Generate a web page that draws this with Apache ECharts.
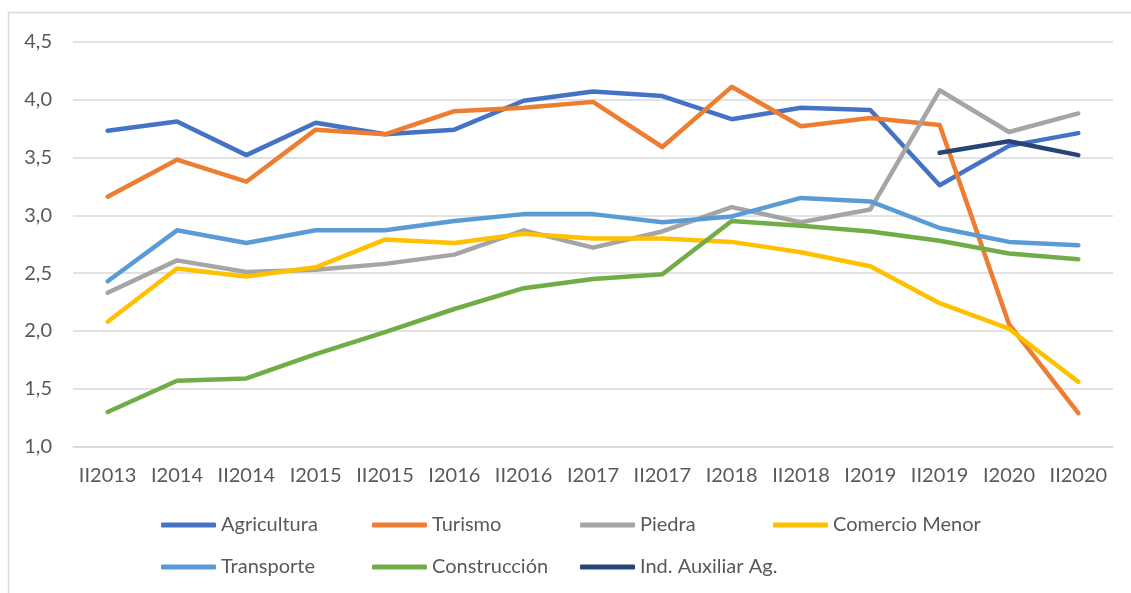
<!DOCTYPE html>
<html>
<head>
<meta charset="utf-8">
<script src="https://cdn.jsdelivr.net/npm/echarts@6/dist/echarts.min.js"></script>
<style>
  html, body { margin: 0; padding: 0; background: #fff; }
  #chart { width: 1131px; height: 593px; }
</style>
</head>
<body>
<div id="chart"></div>
<script>
var periodos = ['II2013', 'I2014', 'II2014', 'I2015', 'II2015', 'I2016', 'II2016', 'I2017', 'II2017', 'I2018', 'II2018', 'I2019', 'II2019', 'I2020', 'II2020'];

var agricultura  = [3.73, 3.81, 3.52, 3.80, 3.70, 3.74, 3.99, 4.07, 4.03, 3.83, 3.93, 3.91, 3.26, 3.60, 3.71];
var turismo      = [3.16, 3.48, 3.29, 3.74, 3.70, 3.90, 3.93, 3.98, 3.59, 4.11, 3.77, 3.84, 3.78, 2.06, 1.29];
var piedra       = [2.33, 2.61, 2.51, 2.53, 2.58, 2.66, 2.87, 2.72, 2.86, 3.07, 2.94, 3.05, 4.08, 3.72, 3.88];
var comercio     = [2.08, 2.54, 2.47, 2.55, 2.79, 2.76, 2.84, 2.80, 2.80, 2.77, 2.68, 2.56, 2.24, 2.02, 1.56];
var transporte   = [2.43, 2.87, 2.76, 2.87, 2.87, 2.95, 3.01, 3.01, 2.94, 2.99, 3.15, 3.12, 2.89, 2.77, 2.74];
var construccion = [1.30, 1.57, 1.59, 1.80, 1.99, 2.19, 2.37, 2.45, 2.49, 2.95, 2.91, 2.86, 2.78, 2.67, 2.62];
var indAuxiliar  = [null, null, null, null, null, null, null, null, null, null, null, null, 3.54, 3.64, 3.52];

var yMin = 1, yMax = 4.5, yStep = 0.5;

var fuente = 'Lato, "Liberation Sans", sans-serif';
var gris = '#595959';
var tam = 20;

function linea(nombre, datos, color) {
  return {
    name: nombre,
    type: 'line',
    data: datos,
    symbol: 'none',
    connectNulls: false,
    lineStyle: { width: 4.5, color: color, cap: 'round', join: 'round' },
    itemStyle: { color: color }
  };
}

function leyenda(x, nombres) {
  return {
    orient: 'vertical',
    left: x,
    top: 515,
    padding: 0,
    itemGap: 22,
    itemWidth: 55,
    itemHeight: 5,
    icon: 'roundRect',
    data: nombres,
    textStyle: { fontSize: tam, color: gris, fontFamily: fuente }
  };
}

var chart = echarts.init(document.getElementById('chart'));

var option = {
  animation: false,
  backgroundColor: '#fff',
  graphic: [
    {
      type: 'rect',
      shape: { x: 8.5, y: 12.5, width: 1200, height: 700 },
      style: { fill: 'none', stroke: '#d9d9d9', lineWidth: 1.5 },
      silent: true
    }
  ],
  legend: [
    leyenda(161, ['Agricultura', 'Transporte']),
    leyenda(372, ['Turismo', 'Construcción']),
    leyenda(580, ['Piedra', 'Ind. Auxiliar Ag.']),
    leyenda(773, ['Comercio Menor'])
  ],
  grid: { left: 73, right: 18, top: 41.7, bottom: 146.3 },
  xAxis: {
    type: 'category',
    data: periodos,
    boundaryGap: true,
    axisLine: { show: true, lineStyle: { color: '#d9d9d9', width: 1.5 } },
    axisTick: { show: false },
    axisLabel: { interval: 0, margin: 19, fontSize: tam, color: gris, fontFamily: fuente }
  },
  yAxis: {
    type: 'value',
    min: yMin,
    max: yMax,
    interval: yStep,
    axisLine: { show: false },
    axisTick: { show: false },
    splitLine: { lineStyle: { color: '#d9d9d9', width: 1.5 } },
    axisLabel: {
      margin: 21,
      fontSize: tam,
      color: gris,
      fontFamily: fuente,
      formatter: function (v) { return v.toFixed(1).replace('.', ','); }
    }
  },
  series: [
    linea('Agricultura', agricultura, '#4472C4'),
    linea('Turismo', turismo, '#ED7D31'),
    linea('Piedra', piedra, '#A5A5A5'),
    linea('Comercio Menor', comercio, '#FFC000'),
    linea('Transporte', transporte, '#5B9BD5'),
    linea('Construcción', construccion, '#70AD47'),
    linea('Ind. Auxiliar Ag.', indAuxiliar, '#264478')
  ]
};

chart.setOption(option);
</script>
</body>
</html>
